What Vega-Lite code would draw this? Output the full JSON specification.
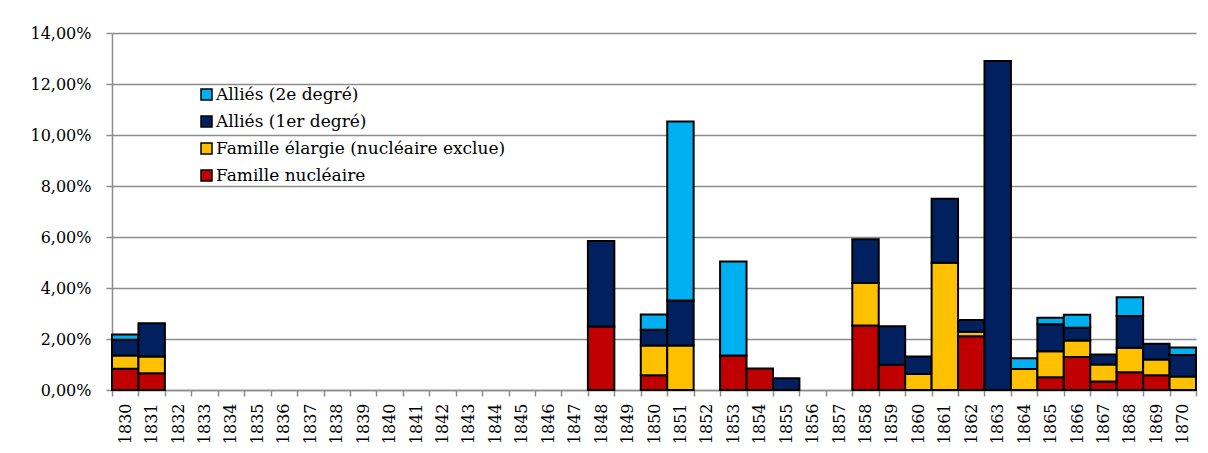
{
  "$schema": "https://vega.github.io/schema/vega-lite/v6.json",
  "width": 1084,
  "height": 357,
  "autosize": "none",
  "padding": {"left": 112, "top": 33, "right": 12, "bottom": 63},
  "background": "white",
  "config": {
    "locale": {"number": {"decimal": ",", "thousands": " ", "grouping": [3], "currency": ["", " €"]}},
    "view": {"stroke": null},
    "font": "DejaVu Serif"
  },
  "data": {
    "values": [
      {"annee": "1830", "nucl": 0.0083, "elarg": 0.0052, "a1": 0.0062, "a2": 0.0021},
      {"annee": "1831", "nucl": 0.0066, "elarg": 0.0065, "a1": 0.0131, "a2": 0},
      {"annee": "1848", "nucl": 0.0249, "elarg": 0, "a1": 0.0335, "a2": 0},
      {"annee": "1850", "nucl": 0.0058, "elarg": 0.0117, "a1": 0.0061, "a2": 0.0060},
      {"annee": "1851", "nucl": 0, "elarg": 0.0175, "a1": 0.0176, "a2": 0.0702},
      {"annee": "1853", "nucl": 0.0135, "elarg": 0, "a1": 0, "a2": 0.0369},
      {"annee": "1854", "nucl": 0.0084, "elarg": 0, "a1": 0, "a2": 0},
      {"annee": "1855", "nucl": 0, "elarg": 0, "a1": 0.0046, "a2": 0},
      {"annee": "1858", "nucl": 0.0253, "elarg": 0.0167, "a1": 0.0171, "a2": 0},
      {"annee": "1859", "nucl": 0.0099, "elarg": 0, "a1": 0.0151, "a2": 0},
      {"annee": "1860", "nucl": 0, "elarg": 0.0063, "a1": 0.0068, "a2": 0},
      {"annee": "1861", "nucl": 0, "elarg": 0.0499, "a1": 0.0251, "a2": 0},
      {"annee": "1862", "nucl": 0.0211, "elarg": 0.0017, "a1": 0.0047, "a2": 0},
      {"annee": "1863", "nucl": 0, "elarg": 0, "a1": 0.129, "a2": 0},
      {"annee": "1864", "nucl": 0, "elarg": 0.0082, "a1": 0, "a2": 0.0043},
      {"annee": "1865", "nucl": 0.0050, "elarg": 0.0102, "a1": 0.0106, "a2": 0.0025},
      {"annee": "1866", "nucl": 0.0129, "elarg": 0.0065, "a1": 0.0050, "a2": 0.0051},
      {"annee": "1867", "nucl": 0.0033, "elarg": 0.0067, "a1": 0.0039, "a2": 0},
      {"annee": "1868", "nucl": 0.0070, "elarg": 0.0096, "a1": 0.0124, "a2": 0.0074},
      {"annee": "1869", "nucl": 0.0058, "elarg": 0.0062, "a1": 0.0061, "a2": 0},
      {"annee": "1870", "nucl": 0, "elarg": 0.0053, "a1": 0.0084, "a2": 0.0030}
    ]
  },
  "transform": [
    {"fold": ["nucl", "elarg", "a1", "a2"], "as": ["code", "valeur"]},
    {"filter": "datum.valeur > 0"},
    {"lookup": "code", "from": {"data": {"values": [
      {"code": "nucl", "serie": "Famille nucléaire", "rang": 0},
      {"code": "elarg", "serie": "Famille élargie (nucléaire exclue)", "rang": 1},
      {"code": "a1", "serie": "Alliés (1er degré)", "rang": 2},
      {"code": "a2", "serie": "Alliés (2e degré)", "rang": 3}
    ]}, "key": "code", "fields": ["serie", "rang"]}}
  ],
  "mark": {"type": "bar", "stroke": "black", "strokeWidth": 2},
  "encoding": {
    "x": {
      "field": "annee", "type": "ordinal",
      "scale": {"domain": ["1830","1831","1832","1833","1834","1835","1836","1837","1838","1839","1840","1841","1842","1843","1844","1845","1846","1847","1848","1849","1850","1851","1852","1853","1854","1855","1856","1857","1858","1859","1860","1861","1862","1863","1864","1865","1866","1867","1868","1869","1870"], "paddingInner": 0, "paddingOuter": 0},
      "axis": {
        "title": null, "labelAngle": 270, "labelAlign": "right", "labelBaseline": "middle",
        "labelFont": "DejaVu Serif", "labelFontSize": 16, "labelColor": "black", "labelPadding": 7,
        "tickBand": "extent", "tickSize": 6, "tickColor": "#8c8c8c", "domainColor": "#8c8c8c", "tickWidth": 1.5, "domainWidth": 1.5
      }
    },
    "y": {
      "field": "valeur", "type": "quantitative", "stack": "zero",
      "scale": {"domain": [0, 0.14], "nice": false},
      "axis": {
        "title": null, "format": ".2%", "values": [0, 0.02, 0.04, 0.06, 0.08, 0.1, 0.12, 0.14],
        "labelFont": "DejaVu Serif", "labelFontSize": 16, "labelColor": "black", "labelPadding": 15,
        "tickSize": 6, "tickColor": "#8c8c8c", "domainColor": "#8c8c8c", "tickWidth": 1.5, "domainWidth": 1.5,
        "grid": true, "gridColor": "#8c8c8c", "gridWidth": 1.5
      }
    },
    "color": {
      "field": "serie", "type": "nominal",
      "scale": {
        "domain": ["Alliés (2e degré)", "Alliés (1er degré)", "Famille élargie (nucléaire exclue)", "Famille nucléaire"],
        "range": ["#00B0F0", "#002060", "#FFC000", "#C00000"]
      },
      "legend": {
        "title": null, "orient": "none", "legendX": 86, "legendY": 53,
        "symbolType": "square", "symbolSize": 121, "symbolStrokeColor": "black", "symbolStrokeWidth": 1.5,
        "labelFont": "DejaVu Serif", "labelFontSize": 17, "labelColor": "black", "labelOffset": 1,
        "rowPadding": 9, "labelLimit": 500
      }
    },
    "order": {"field": "rang", "type": "quantitative"}
  }
}
